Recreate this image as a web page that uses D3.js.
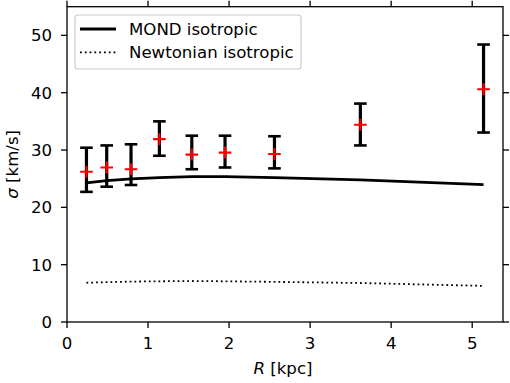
<!DOCTYPE html>
<html>
<head>
<meta charset="utf-8">
<script src="https://cdn.jsdelivr.net/npm/d3@7"></script>
<style>
  body { margin: 0; background: #fff; }
  svg text { font-family: "DejaVu Sans", sans-serif; }
</style>
</head>
<body>
<script>
// data
const radius = [0.24, 0.49, 0.79, 1.14, 1.54, 1.95, 2.56, 3.62, 5.14];
const sigma = [26.2, 26.95, 26.65, 31.9, 29.2, 29.55, 29.3, 34.4, 40.6];
const errLow = [22.7, 23.6, 23.9, 29.0, 26.65, 26.95, 26.8, 30.8, 33.05];
const errHigh = [30.4, 30.8, 31.0, 35.0, 32.5, 32.5, 32.4, 38.1, 48.4];
const mond = [24.25, 24.65, 24.95, 25.2, 25.35, 25.35, 25.2, 24.8, 23.95];
const newton = [6.85, 6.95, 7.05, 7.1, 7.15, 7.1, 7.0, 6.8, 6.3];
const xTicks = [0, 1, 2, 3, 4, 5];
const yTicks = [0, 10, 20, 30, 40, 50];
const legendLabels = ['MOND isotropic', 'Newtonian isotropic'];

const W = 510, H = 383;
const mLeft = 67, mRight = 503, mTop = 6.7, mBottom = 322;
const fs = 16.6;

const svg = d3.select('body')
  .append('svg')
  .attr('width', W)
  .attr('height', H);

const x = d3.scaleLinear().domain([0, 5.38]).range([mLeft, mRight]);
const y = d3.scaleLinear().domain([0, 55]).range([mBottom, mTop]);

const line = d3.line()
  .x(d => x(d[0]))
  .y(d => y(d[1]));

// model curves
svg.append('path')
  .datum(radius.map((r, i) => [r, mond[i]]))
  .attr('d', line)
  .attr('fill', 'none')
  .attr('stroke', '#000')
  .attr('stroke-width', 2.8);

svg.append('path')
  .datum(radius.map((r, i) => [r, newton[i]]))
  .attr('d', line)
  .attr('fill', 'none')
  .attr('stroke', '#000')
  .attr('stroke-width', 1.8)
  .attr('stroke-dasharray', '1.8,3');

// error bars
const bars = svg.append('g');
radius.forEach(function(r, i) {
  bars.append('line')
    .attr('x1', x(r)).attr('x2', x(r))
    .attr('y1', y(errLow[i])).attr('y2', y(errHigh[i]))
    .attr('stroke', '#000')
    .attr('stroke-width', 3.2);
  [errLow[i], errHigh[i]].forEach(function(v) {
    bars.append('line')
      .attr('x1', x(r) - 6.3).attr('x2', x(r) + 6.3)
      .attr('y1', y(v)).attr('y2', y(v))
      .attr('stroke', '#000')
      .attr('stroke-width', 2.6);
  });
});

// red plus markers
const marks = svg.append('g');
radius.forEach(function(r, i) {
  marks.append('path')
    .attr('d', `M${x(r) - 6.3},${y(sigma[i])}h12.6M${x(r)},${y(sigma[i]) - 6}v12`)
    .attr('stroke', 'red')
    .attr('stroke-width', 2.1)
    .attr('fill', 'none');
});

// axes
const tickLen = 6;
const ax = svg.append('g').attr('stroke', '#000').attr('stroke-width', 1.3);
ax.append('rect')
  .attr('x', mLeft).attr('y', mTop)
  .attr('width', mRight - mLeft).attr('height', mBottom - mTop)
  .attr('fill', 'none');

xTicks.forEach(function(t) {
  ax.append('line').attr('x1', x(t)).attr('x2', x(t))
    .attr('y1', mBottom).attr('y2', mBottom + tickLen);
  ax.append('line').attr('x1', x(t)).attr('x2', x(t))
    .attr('y1', mTop).attr('y2', mTop - tickLen);
  svg.append('text')
    .attr('x', x(t)).attr('y', 349)
    .attr('text-anchor', 'middle')
    .attr('font-size', fs)
    .text(t);
});

yTicks.forEach(function(t) {
  ax.append('line').attr('x1', mLeft - tickLen).attr('x2', mLeft)
    .attr('y1', y(t)).attr('y2', y(t));
  ax.append('line').attr('x1', mRight).attr('x2', mRight + tickLen)
    .attr('y1', y(t)).attr('y2', y(t));
  svg.append('text')
    .attr('x', 52).attr('y', y(t))
    .attr('dy', '0.36em')
    .attr('text-anchor', 'end')
    .attr('font-size', fs)
    .text(t);
});

// axis labels
const xl = svg.append('text')
  .attr('x', (mLeft + mRight) / 2 - 2).attr('y', 374)
  .attr('text-anchor', 'middle')
  .attr('font-size', fs);
xl.append('tspan').attr('font-style', 'italic').text('R');
xl.append('tspan').text(' [kpc]');

const yl = svg.append('text')
  .attr('transform', `translate(18,${(mTop + mBottom) / 2}) rotate(-90)`)
  .attr('text-anchor', 'middle')
  .attr('font-size', fs);
yl.append('tspan').attr('font-style', 'italic').text('σ');
yl.append('tspan').text(' [km/s]');

// legend
const lg = svg.append('g');
lg.append('rect')
  .attr('x', 75).attr('y', 15)
  .attr('width', 226).attr('height', 54)
  .attr('rx', 3)
  .attr('fill', '#fff').attr('fill-opacity', 0.8)
  .attr('stroke', '#ccc').attr('stroke-width', 1.2);

legendLabels.forEach(function(name, i) {
  const cy = 29 + i * 23.3;
  lg.append('line')
    .attr('x1', 80).attr('x2', 116)
    .attr('y1', cy).attr('y2', cy)
    .attr('stroke', '#000')
    .attr('stroke-width', i == 0 ? 2.8 : 1.8)
    .attr('stroke-dasharray', i == 0 ? null : '1.8,3');
  lg.append('text')
    .attr('x', 129).attr('y', cy + 6)
    .attr('font-size', fs)
    .text(name);
});
</script>
</body>
</html>
